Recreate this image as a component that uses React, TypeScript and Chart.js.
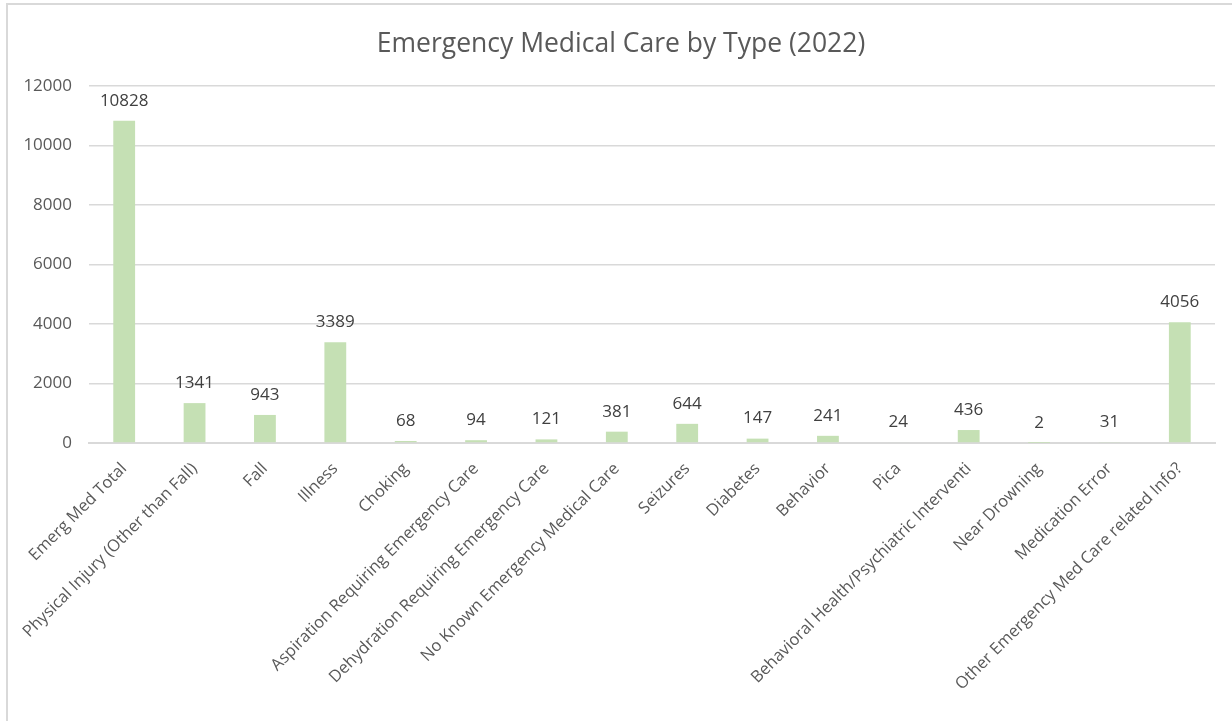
import React, { useEffect, useRef } from "react";
import { Chart, registerables } from "chart.js";

Chart.register(...registerables);

const TITLE = "Emergency Medical Care by Type (2022)";

const categories: string[] = [
  "Emerg Med Total",
  "Physical Injury (Other than Fall)",
  "Fall",
  "Illness",
  "Choking",
  "Aspiration Requiring Emergency Care",
  "Dehydration Requiring Emergency Care",
  "No Known Emergency Medical Care",
  "Seizures",
  "Diabetes",
  "Behavior",
  "Pica",
  "Behavioral Health/Psychiatric Interventi",
  "Near Drowning",
  "Medication Error",
  "Other Emergency Med Care related Info?",
];

const counts: number[] = [10828, 1341, 943, 3389, 68, 94, 121, 381, 644, 147, 241, 24, 436, 2, 31, 4056];

const yTicks: number[] = [0, 2000, 4000, 6000, 8000, 10000, 12000];

const FONT = "'Open Sans', 'Noto Sans', sans-serif";

const borderPlugin = {
  id: "frameBorder",
  beforeDraw(chart: any) {
    const ctx = chart.ctx;
    ctx.save();
    ctx.fillStyle = "#ffffff";
    ctx.fillRect(0, 0, chart.width, chart.height);
    ctx.strokeStyle = "#D9D9D9";
    ctx.lineWidth = 2;
    ctx.beginPath();
    ctx.moveTo(7, chart.height + 2);
    ctx.lineTo(7, 4);
    ctx.lineTo(chart.width + 2, 4);
    ctx.stroke();
    ctx.restore();
  },
};

const titlePlugin = {
  id: "centeredTitle",
  afterDraw(chart: any) {
    const ctx = chart.ctx;
    ctx.save();
    ctx.font = `26.5px ${FONT}`;
    ctx.fillStyle = "#595959";
    ctx.textAlign = "center";
    ctx.textBaseline = "middle";
    ctx.fillText(TITLE, 621, 44);
    ctx.restore();
  },
};

const valueLabelPlugin = {
  id: "valueLabels",
  afterDatasetsDraw(chart: any) {
    const ctx = chart.ctx;
    const meta = chart.getDatasetMeta(0);
    const data = chart.data.datasets[0].data as number[];
    ctx.save();
    ctx.font = `17px ${FONT}`;
    ctx.fillStyle = "#404040";
    ctx.textAlign = "center";
    ctx.textBaseline = "middle";
    meta.data.forEach((bar: any, i: number) => {
      ctx.fillText(String(data[i]), bar.x, bar.y - 20);
    });
    ctx.restore();
  },
};

export default function App() {
  const canvasRef = useRef<HTMLCanvasElement | null>(null);

  useEffect(() => {
    if (!canvasRef.current) return;
    const chart = new Chart(canvasRef.current, {
      type: "bar",
      data: {
        labels: categories,
        datasets: [
          {
            data: counts,
            backgroundColor: "#C5E0B4",
            borderWidth: 0,
            barPercentage: 0.31,
            categoryPercentage: 1,
          },
        ],
      },
      options: {
        responsive: false,
        animation: false,
        layout: { padding: { left: 10, right: 17, top: 86, bottom: 0 } },
        plugins: {
          legend: { display: false },
          tooltip: { enabled: false },
          title: { display: false },
        },
        scales: {
          x: {
            grid: { display: false, drawTicks: false },
            border: { display: true, color: "#D9D9D9", width: 2 },
            ticks: {
              autoSkip: false,
              maxRotation: 45,
              minRotation: 45,
              padding: 16,
              color: "#595959",
              font: { family: FONT, size: 16.5 },
            },
            afterFit(scale: any) {
              scale.height = 278;
            },
          },
          y: {
            min: 0,
            max: 12000,
            afterBuildTicks(scale: any) {
              scale.ticks = yTicks.map((v) => ({ value: v }));
            },
            grid: { color: "#D9D9D9", lineWidth: 1.5, drawTicks: false },
            border: { display: false },
            ticks: {
              padding: 17,
              color: "#595959",
              font: { family: FONT, size: 17 },
              callback: (v: any) => String(v),
            },
            afterFit(scale: any) {
              scale.width = 79;
            },
          },
        },
      },
      plugins: [borderPlugin, valueLabelPlugin, titlePlugin],
    });
    return () => chart.destroy();
  }, []);

  return (
    <div style={{ position: "fixed", left: 0, top: 0, width: 1232, height: 721, background: "#fff" }}>
      <canvas ref={canvasRef} width={1232} height={721} style={{ display: "block" }} />
    </div>
  );
}
